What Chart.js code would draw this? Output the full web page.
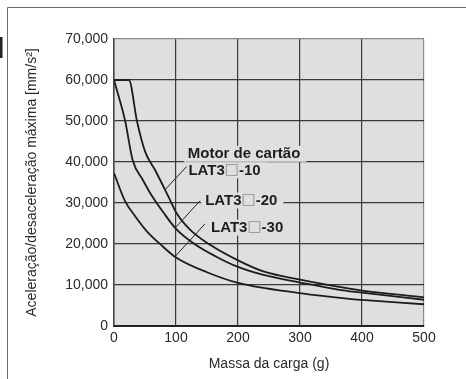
<!DOCTYPE html>
<html lang="pt">
<head>
<meta charset="utf-8">
<script src="https://cdn.jsdelivr.net/npm/chart.js@4.4.1/dist/chart.umd.min.js"></script>
<style>
  html, body { margin: 0; padding: 0; background: #fff; }
  #wrap { position: relative; width: 466px; height: 379px; }
</style>
</head>
<body>
<div id="wrap"><canvas id="accelChart" width="466" height="379"></canvas></div>
<script>
const FONT = "'Liberation Sans', Arial, Helvetica, sans-serif";

// curves: load mass (g) vs max accel (mm/s2)
const lat10Mass = [0, 24, 37, 50, 66, 88, 101, 123, 155, 200, 241, 300, 380, 400, 500];
const lat10Accel = [60000, 60000, 50000, 42600, 38100, 31500, 27500, 23450, 19800, 16000, 13300, 11300, 9100, 8650, 7000];

const lat20Mass = [0, 18, 30, 47, 60, 80, 100, 128, 165, 200, 241, 300, 380, 400, 500];
const lat20Accel = [60000, 50000, 40500, 35500, 32000, 27600, 23700, 20200, 16900, 14400, 12460, 10600, 8450, 8150, 6400];

const lat30Mass = [0, 18, 35, 53, 75, 100, 150, 200, 300, 380, 400, 500];
const lat30Accel = [37300, 30400, 26600, 23100, 19900, 16700, 13100, 10500, 8000, 6600, 6350, 5300];

const xTickLabels = ['0', '100', '200', '300', '400', '500'];
const yTickLabels = ['0', '10,000', '20,000', '30,000', '40,000', '50,000', '60,000', '70,000'];

// annotation text, anchored at left edge / vertical middle, in data units
const curveLabels = [
  { text: 'Motor de cartão', x: 119, y: 42000 },
  { text: 'LAT3□-10', x: 120, y: 37950 },
  { text: 'LAT3□-20', x: 147, y: 30600 },
  { text: 'LAT3□-30', x: 156.5, y: 24000 },
];
// leader lines from label to curve
const leader10 = [[82.3, 33230], [117.3, 38920]];
const leader20 = [[98.4, 23870], [138.7, 30540]];
const leader30 = [[98.4, 16930], [146.8, 24920]];

function toPoints(xs, ys) {
  return xs.map((x, i) => ({ x, y: ys[i] }));
}

function curve(label, xs, ys) {
  return {
    label,
    data: toPoints(xs, ys),
    borderColor: '#1c1c1c',
    borderWidth: 1.8,
    pointRadius: 0,
    fill: false,
    cubicInterpolationMode: 'monotone',
  };
}

function leader(pts) {
  return {
    label: 'leader',
    data: pts.map(([x, y]) => ({ x, y })),
    borderColor: '#222',
    borderWidth: 1,
    pointRadius: 0,
    tension: 0,
  };
}

const frame = {
  id: 'frame',
  beforeDraw(chart) {
    const { ctx, chartArea: a } = chart;
    ctx.save();
    ctx.fillStyle = '#dedfe1';
    ctx.fillRect(a.left, a.top, a.right - a.left, a.bottom - a.top);
    ctx.strokeStyle = '#6a6a6a';
    ctx.lineWidth = 1;
    ctx.beginPath();
    ctx.moveTo(7.5, chart.height);
    ctx.lineTo(7.5, 7.5);
    ctx.lineTo(chart.width, 7.5);
    ctx.stroke();
    ctx.fillStyle = '#222';
    ctx.fillRect(0, 37, 2.5, 21);
    ctx.restore();
  },
};

const BOLD = `bold 15px ${FONT}`;
const BOX = "15px 'DejaVu Sans', sans-serif";

function labelParts(text) {
  const i = text.indexOf('□');
  if (i < 0) return [[text, '#1e1e1e', BOLD]];
  return [
    [text.slice(0, i), '#1e1e1e', BOLD],
    ['□', '#8c8c8c', BOX],
    [text.slice(i + 1), '#1e1e1e', BOLD],
  ];
}

function labelWidth(ctx, text) {
  return labelParts(text).reduce((w, [s, , f]) => {
    ctx.font = f;
    return w + ctx.measureText(s).width;
  }, 0);
}

const curveText = {
  id: 'curveText',
  beforeDatasetsDraw(chart) {
    const { ctx, scales: { x, y } } = chart;
    ctx.save();
    curveLabels.forEach((l) => {
      const px = x.getPixelForValue(l.x);
      const py = y.getPixelForValue(l.y);
      const w = labelWidth(ctx, l.text);
      ctx.fillStyle = '#dedfe1';
      ctx.fillRect(px - 4, py - 8, w + 10, 16);
    });
    ctx.restore();
  },
  afterDatasetsDraw(chart) {
    const { ctx, scales: { x, y } } = chart;
    ctx.save();
    ctx.textBaseline = 'middle';
    ctx.textAlign = 'left';
    curveLabels.forEach((l) => {
      let px = x.getPixelForValue(l.x);
      const py = y.getPixelForValue(l.y);
      labelParts(l.text).forEach(([s, c, f]) => {
        ctx.font = f;
        ctx.fillStyle = c;
        ctx.fillText(s, px, py);
        px += ctx.measureText(s).width;
      });
    });
    ctx.restore();
  },
};

new Chart(document.getElementById('accelChart'), {
  type: 'line',
  data: {
    datasets: [
      curve('LAT3□-10', lat10Mass, lat10Accel),
      curve('LAT3□-20', lat20Mass, lat20Accel),
      curve('LAT3□-30', lat30Mass, lat30Accel),
      leader(leader10),
      leader(leader20),
      leader(leader30),
    ],
  },
  options: {
    responsive: false,
    animation: false,
    events: [],
    layout: { padding: { top: 39, right: 42, left: 0, bottom: 0 } },
    plugins: { legend: { display: false }, tooltip: { enabled: false } },
    scales: {
      x: {
        type: 'linear',
        min: 0,
        max: 500,
        afterFit: (s) => { s.height = 53; },
        ticks: {
          stepSize: 100,
          padding: 4,
          color: '#2a2a2a',
          font: { family: FONT, size: 14 },
          callback: (v, i) => xTickLabels[i],
        },
        grid: {
          drawTicks: false,
          color: (c) => (c.tick && c.tick.value === 500 ? '#8a8a8a' : '#3a3a3a'),
          lineWidth: 1.2,
        },
        border: { color: '#222', width: 2 },
        title: {
          display: true,
          text: 'Massa da carga (g)',
          color: '#2a2a2a',
          font: { family: FONT, size: 14 },
          padding: { top: 0, bottom: 6 },
        },
      },
      y: {
        min: 0,
        max: 70000,
        afterFit: (s) => { s.width = 114; },
        ticks: {
          stepSize: 10000,
          padding: 6,
          color: '#2a2a2a',
          font: { family: FONT, size: 14 },
          callback: (v, i) => yTickLabels[i],
        },
        grid: {
          drawTicks: false,
          color: (c) => (c.tick && c.tick.value === 70000 ? '#8a8a8a' : '#3a3a3a'),
          lineWidth: 1.2,
        },
        border: { color: '#444', width: 1.5 },
        title: {
          display: true,
          text: 'Aceleração/desaceleração máxima [mm/s²]',
          color: '#2a2a2a',
          font: { family: FONT, size: 14 },
          padding: { top: 24, bottom: 0 },
        },
      },
    },
  },
  plugins: [frame, curveText],
});
</script>
</body>
</html>
